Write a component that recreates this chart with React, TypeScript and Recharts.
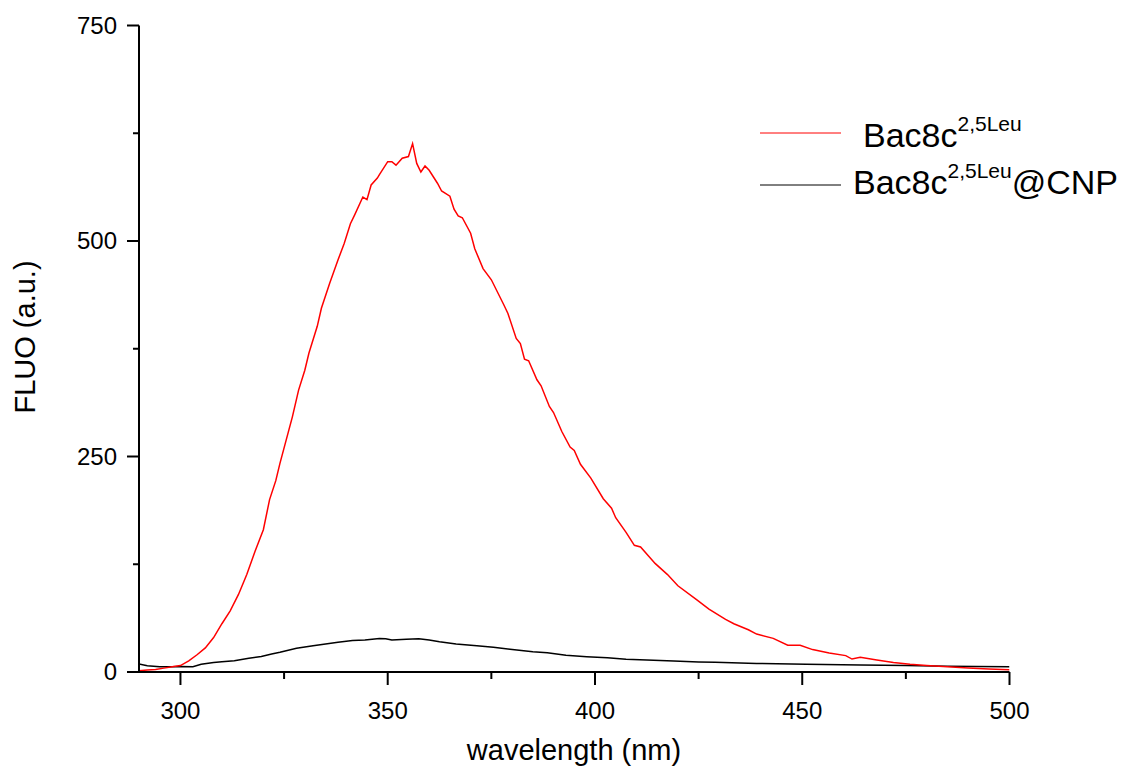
import { LineChart, Line, XAxis, YAxis, Legend, Label } from "recharts";

const FONT = '"Liberation Sans", Arial, Helvetica, sans-serif';

// emission spectrum of the free peptide
const redWl = [
  290, 292, 294, 296, 298, 300, 302, 304, 306, 308,
  310, 312, 314, 316, 318, 320, 321.5, 323, 324, 326,
  327, 328.5, 330, 331, 333, 334, 336, 338, 339.5, 341,
  342, 344, 345, 346, 347.5, 348, 350, 351, 352, 353.5,
  355, 356, 357, 358, 359, 360, 362, 363, 365, 366,
  367, 368, 370, 371, 373, 375, 378, 379, 381, 382,
  383, 384, 386, 387, 389, 390, 392, 394, 395, 396.5,
  399, 402, 404, 405, 407.5, 409.5, 411, 414.5, 417.5, 420,
  424.5, 427.5, 431.5, 433.5, 437, 439, 443, 446.5, 449.5, 452.5,
  456.5, 460.5, 462, 464, 468, 472, 476, 480, 485, 490,
  495, 500,
];
const redFluo = [
  1.5, 2.3, 3, 4.5, 6, 7.5, 13, 20, 28, 40,
  56, 71, 90, 113, 140, 165, 200, 222, 242, 278,
  296, 327, 350, 370, 401, 422, 451, 478, 497, 520,
  530, 551, 548, 565, 573, 577, 592, 592, 588, 596,
  598, 613, 590, 580, 587, 582, 567, 558, 552, 537,
  529, 527, 509, 491, 468, 455, 426, 416, 387, 381,
  363, 361, 339, 332, 308, 301, 279, 261, 257, 241,
  225, 201, 190, 179, 162, 147, 145, 126, 113, 100,
  84, 73, 61, 56, 49, 44, 39, 31, 31, 26,
  22, 19, 15, 17, 14, 11, 9, 7.5, 6, 4.5,
  3.5, 2.5,
];

// same peptide loaded on CNP
const blackWl = [
  290, 292, 295, 298, 300, 303, 305, 308, 310, 313,
  316.5, 319.5, 322, 324, 328, 332, 335, 338, 341.5, 344.5,
  348, 349.5, 351, 354.5, 357.5, 360, 362.5, 366.5, 371.5, 375.5,
  379.5, 385, 388.5, 393, 398, 403, 407.5, 412.5, 419, 425,
  429, 439, 451, 464, 475, 485, 492, 500,
];
const blackFluo = [
  9.3, 7.3, 6, 6, 6.5, 6.2, 9, 11, 12, 13,
  16, 18, 21, 23, 27.5, 30.5, 32.5, 34.5, 36.5, 37,
  39, 38.5, 37, 38, 38.5, 37, 35, 32.5, 30.5, 28.7,
  26.3, 23.5, 22.4, 19.3, 17.8, 16.6, 14.7, 13.9, 12.8, 11.6,
  11.2, 10, 8.9, 8.1, 7.5, 6.8, 6.5, 6.2,
];

const xTicks = [300, 325, 350, 375, 400, 425, 450, 475, 500];
const yTicks = [0, 125, 250, 375, 500, 625, 750];

const redData = redWl.map((wl, i) => ({ wl, fluo: redFluo[i] }));
const blackData = blackWl.map((wl, i) => ({ wl, fluo: blackFluo[i] }));

function XTick({ x, y, payload }: any) {
  const major = payload.value % 50 === 0;
  return (
    <g>
      <line x1={x} x2={x} y1={y} y2={y + (major ? 13 : 7)} stroke="#000" strokeWidth={2} />
      {major && (
        <text x={x} y={y + 30} dy="0.71em" textAnchor="middle" fontSize={24} fontFamily={FONT} fill="#000">
          {payload.value}
        </text>
      )}
    </g>
  );
}

function YTick({ x, y, payload }: any) {
  const major = payload.value % 250 === 0;
  return (
    <g>
      <line x1={x} x2={x - (major ? 12 : 6)} y1={y} y2={y} stroke="#000" strokeWidth={2} />
      {major && (
        <text x={x - 22} y={y} dy="0.35em" textAnchor="end" fontSize={24} fontFamily={FONT} fill="#000">
          {payload.value}
        </text>
      )}
    </g>
  );
}

function LegendBox() {
  return (
    <svg width={380} height={110} style={{ display: "block" }}>
      <line x1={0} x2={81} y1={33} y2={33} stroke="#ff0000" strokeWidth={1} />
      <text x={103} y={47} fontSize={34} fontFamily={FONT} fill="#000">
        Bac8c
        <tspan dy={-16} fontSize={21}>2,5Leu</tspan>
      </text>
      <line x1={0} x2={81} y1={85} y2={85} stroke="#000" strokeWidth={1} />
      <text x={93} y={94} fontSize={34} fontFamily={FONT} fill="#000">
        Bac8c
        <tspan dy={-16} fontSize={21}>2,5Leu</tspan>
        <tspan dy={16} fontSize={34}>@CNP</tspan>
      </text>
    </svg>
  );
}

export default function App() {
  return (
    <div style={{ width: 1117, height: 762 }}>
      <LineChart width={1117} height={762} margin={{ top: 17.5, right: 115.5, bottom: 0, left: 51 }}>
        <XAxis
          dataKey="wl"
          type="number"
          domain={[290, 500]}
          ticks={xTicks}
          interval={0}
          allowDataOverflow
          height={98}
          tickSize={0}
          tickMargin={0}
          tickLine={false}
          tick={<XTick />}
          axisLine={{ stroke: "#000", strokeWidth: 2 }}
        >
          <Label
            content={() => (
              <text x={566} y={742} dy="0.35em" textAnchor="middle" fontSize={29} fontFamily={FONT} fill="#000">
                wavelength (nm)
              </text>
            )}
          />
        </XAxis>
        <YAxis
          type="number"
          domain={[0, 750]}
          ticks={yTicks}
          interval={0}
          allowDataOverflow
          width={80}
          tickSize={0}
          tickMargin={0}
          tickLine={false}
          tick={<YTick />}
          axisLine={{ stroke: "#000", strokeWidth: 2 }}
        >
          <Label
            content={() => (
              <text
                x={17}
                y={329}
                dy="0.35em"
                textAnchor="middle"
                transform="rotate(-90, 17, 329)"
                fontSize={29}
                fontFamily={FONT}
                fill="#000"
              >
                FLUO (a.u.)
              </text>
            )}
          />
        </YAxis>
        <Legend
          layout="horizontal"
          verticalAlign="middle"
          align="center"
          content={() => <LegendBox />}
          wrapperStyle={{ left: 752, top: 92, width: 380, height: 110 }}
        />
        <Line
          data={blackData}
          dataKey="fluo"
          type="linear"
          stroke="#000"
          strokeWidth={1.5}
          dot={false}
          isAnimationActive={false}
        />
        <Line
          data={redData}
          dataKey="fluo"
          type="linear"
          stroke="#ff0000"
          strokeWidth={1.5}
          dot={false}
          isAnimationActive={false}
        />
      </LineChart>
    </div>
  );
}
